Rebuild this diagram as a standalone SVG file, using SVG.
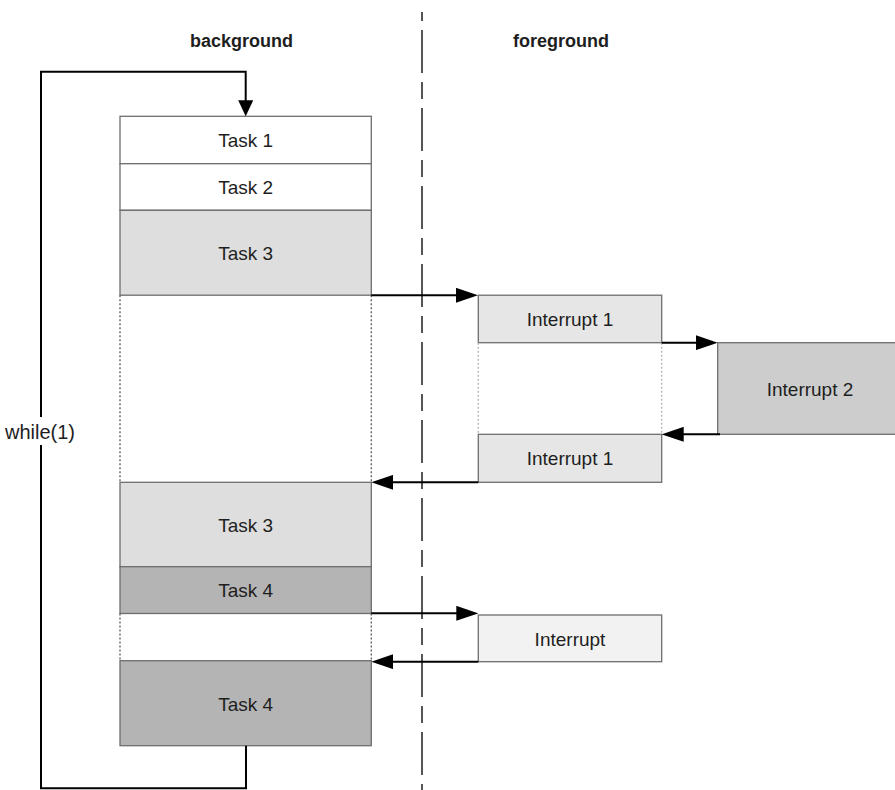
<svg xmlns="http://www.w3.org/2000/svg" width="895" height="790" viewBox="0 0 895 790">
  <defs>
    <style>
      text { font-family: "Liberation Sans", Arial, sans-serif; fill: #1e1e1e; }
      .head { font-size: 18px; font-weight: bold; text-anchor: middle; }
      .lbl { font-size: 19px; text-anchor: middle; }
      .box { stroke: #6e6e6e; stroke-width: 1.3; }
      .white { fill: #ffffff; }
      .t3 { fill: #dedede; }
      .t4 { fill: #b4b4b4; }
      .i1 { fill: #e6e6e6; }
      .i2 { fill: #cdcdcd; }
      .i0 { fill: #f2f2f2; }
      .gap { stroke: #5a5a5a; stroke-width: 1.3; stroke-dasharray: 2 2; fill: none; }
      .gap-light { stroke: #b0b0b0; stroke-width: 1.3; stroke-dasharray: 2 2; fill: none; }
      .flow { stroke: #000000; stroke-width: 2; fill: none; }
      .divider { stroke: #555555; stroke-width: 2; stroke-dasharray: 43 9 17 9; stroke-dashoffset: 60; fill: none; }
    </style>
    <marker id="arrow" markerUnits="userSpaceOnUse" markerWidth="22" markerHeight="15" refX="2" refY="7.5" orient="auto">
      <path d="M0,0 L22,7.5 L0,15 Z" fill="#000000"/>
    </marker>
    <marker id="arrow-short" markerUnits="userSpaceOnUse" markerWidth="16" markerHeight="15" refX="1" refY="7.5" orient="auto">
      <path d="M0,0 L16,7.5 L0,15 Z" fill="#000000"/>
    </marker>
  </defs>

  <rect width="895" height="790" fill="#ffffff"/>

  <!-- column headers and the background/foreground divider -->
  <text class="head" x="241.5" y="47">background</text>
  <text class="head" x="561" y="47">foreground</text>
  <line class="divider" x1="422" y1="12" x2="422" y2="790"/>

  <!-- background task column -->
  <g id="task1">
    <rect class="box white" x="120" y="116.3" width="251.3" height="47.4"/>
    <text class="lbl" x="245.6" y="147">Task 1</text>
  </g>
  <g id="task2">
    <rect class="box white" x="120" y="163.7" width="251.3" height="46.6"/>
    <text class="lbl" x="245.6" y="194">Task 2</text>
  </g>
  <g id="task3">
    <rect class="box t3" x="120" y="210.3" width="251.3" height="84.9"/>
    <text class="lbl" x="245.6" y="260">Task 3</text>
  </g>
  <g id="task3-idle">
    <line class="gap" x1="120" y1="295.2" x2="120" y2="482.3"/>
    <line class="gap" x1="371.3" y1="295.2" x2="371.3" y2="482.3"/>
  </g>
  <g id="task3-resume">
    <rect class="box t3" x="120" y="482.3" width="251.3" height="84.4"/>
    <text class="lbl" x="245.6" y="531.5">Task 3</text>
  </g>
  <g id="task4">
    <rect class="box t4" x="120" y="566.7" width="251.3" height="46.8"/>
    <text class="lbl" x="245.6" y="597">Task 4</text>
  </g>
  <g id="task4-idle">
    <line class="gap" x1="120" y1="613.5" x2="120" y2="660.7"/>
    <line class="gap" x1="371.3" y1="613.5" x2="371.3" y2="660.7"/>
  </g>
  <g id="task4-resume">
    <rect class="box t4" x="120" y="660.7" width="251.3" height="85"/>
    <text class="lbl" x="245.6" y="711">Task 4</text>
  </g>

  <!-- foreground interrupt handlers -->
  <g id="interrupt1">
    <rect class="box i1" x="478.3" y="295.2" width="183.4" height="47.5"/>
    <text class="lbl" x="570" y="326">Interrupt 1</text>
  </g>
  <g id="interrupt1-idle">
    <line class="gap-light" x1="478.3" y1="342.7" x2="478.3" y2="434.3"/>
    <line class="gap-light" x1="661.7" y1="342.7" x2="661.7" y2="434.3"/>
  </g>
  <g id="interrupt2">
    <rect class="box i2" x="717.7" y="342.7" width="190" height="91.6"/>
    <text class="lbl" x="810" y="395.5">Interrupt 2</text>
  </g>
  <g id="interrupt1-resume">
    <rect class="box i1" x="478.3" y="434.3" width="183.4" height="48"/>
    <text class="lbl" x="570" y="465">Interrupt 1</text>
  </g>
  <g id="interrupt">
    <rect class="box i0" x="478.3" y="615" width="183.4" height="46.7"/>
    <text class="lbl" x="570" y="645.5">Interrupt</text>
  </g>

  <!-- control flow -->
  <g id="connectors">
    <path class="flow" d="M371.3,295.3 H458" marker-end="url(#arrow)"/>
    <path class="flow" d="M661.7,342.7 H697.7" marker-end="url(#arrow)"/>
    <path class="flow" d="M720,434.3 H681.7" marker-end="url(#arrow)"/>
    <path class="flow" d="M478.3,482.3 H391.3" marker-end="url(#arrow)"/>
    <path class="flow" d="M371.3,613.3 H458.3" marker-end="url(#arrow)"/>
    <path class="flow" d="M478.3,661.7 H391.3" marker-end="url(#arrow)"/>
    <path class="flow" d="M246,745.7 V788.3 H41 V71.7 H245.7 V101.3" marker-end="url(#arrow-short)"/>
  </g>

  <!-- loop label sitting on the return line -->
  <g id="loop-label">
    <rect x="4" y="417" width="74" height="28" fill="#ffffff"/>
    <text x="5" y="439" style="font-size:20px">while(1)</text>
  </g>
</svg>
